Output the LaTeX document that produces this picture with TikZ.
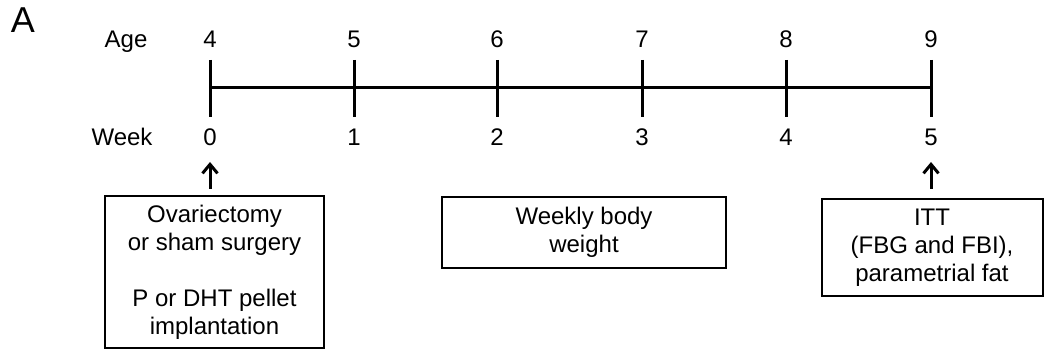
\documentclass[tikz,border=0pt]{standalone}
\usepackage{fontspec}
\setmainfont{Liberation Sans}
\usetikzlibrary{arrows.meta}
\begin{document}
\begin{tikzpicture}[x=1pt,y=-1pt,
  lbl/.style={font=\fontsize{24}{28}\selectfont, anchor=base, inner sep=0pt},
  tick/.style={line width=3pt},
  axis/.style={line width=3pt},
  box/.style={draw, line width=2pt, align=center, inner sep=0pt,
              font=\fontsize{24}{28}\selectfont},
  up/.style={line width=3pt, -{Straight Barb[length=9pt,width=15pt,line width=3pt]}}]
\useasboundingbox (0,0) rectangle (1044,352);
\node[font=\fontsize{36}{40}\selectfont, anchor=base, inner sep=0pt] (A) at (23,33) {A};
\node[lbl] (age) at (126,48) {Age};
\node[lbl] (week) at (122,146) {Week};
\foreach \i/\x/\a/\w in {0/210/4/0,1/354/5/1,2/497/6/2,3/642/7/3,4/786/8/4,5/931/9/5}{
  \coordinate (t\i top) at (\x,60);
  \coordinate (t\i bot) at (\x,117);
  \coordinate (t\i mid) at (\x,88);
  \node[lbl] (age\i) at (\x,48) {\a};
  \node[lbl] (wk\i) at (\x,146) {\w};
  \draw[tick] (t\i top) -- (t\i bot);
}
\draw[axis] (t0mid) -- (t5mid);
\node[box, minimum width=219pt, minimum height=152pt] (b1) at (214.5,272)
  {Ovariectomy\\or sham surgery\\[28pt]P or DHT pellet\\implantation};
\node[box, minimum width=284pt, minimum height=71pt] (b2) at (584,232.5)
  {Weekly body\\weight};
\node[box, minimum width=221pt, minimum height=97pt] (b3) at (932,247.5)
  {ITT\\(FBG and FBI),\\parametrial fat};
\coordinate (a0s) at (210,189);
\coordinate (a0e) at (210,162);
\coordinate (a5s) at (931,189);
\coordinate (a5e) at (931,162);
\draw[up] (a0s) -- (a0e);
\draw[up] (a5s) -- (a5e);
\end{tikzpicture}
\end{document}
